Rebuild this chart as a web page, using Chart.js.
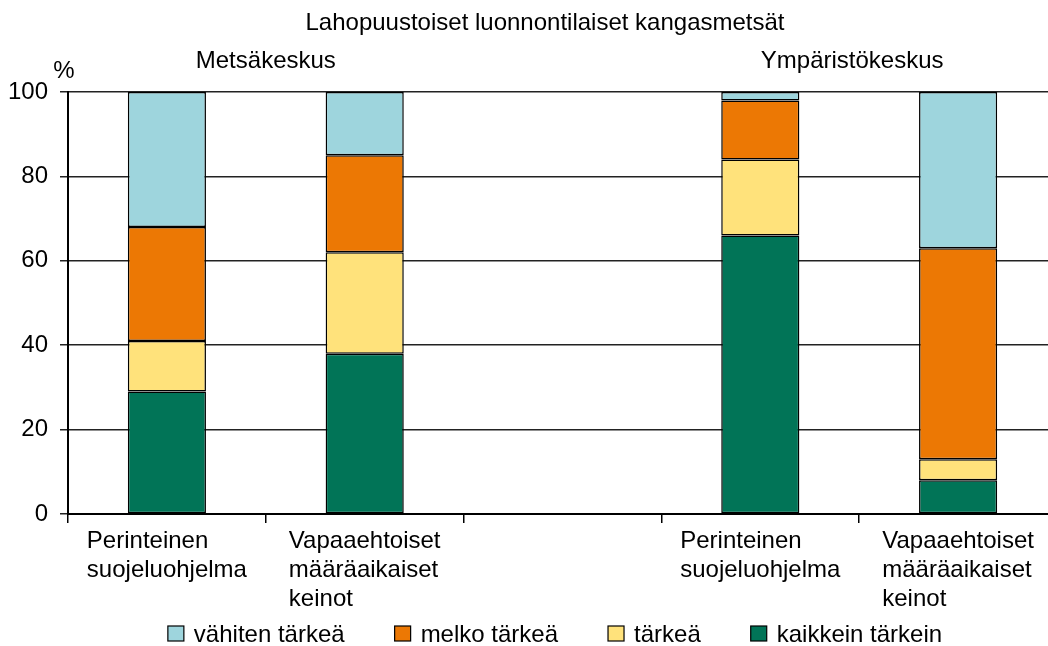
<!DOCTYPE html>
<html>
<head>
<meta charset="utf-8">
<script src="https://cdn.jsdelivr.net/npm/chart.js@4"></script>
<style>
  html, body { margin: 0; padding: 0; background: #fff; overflow: hidden; }
  #wrap { width: 1057px; height: 646px; }
</style>
</head>
<body>
<div id="wrap"><canvas id="chart"></canvas></div>
<script>
// Data
const categories = [
  ["Perinteinen", "suojeluohjelma"],
  ["Vapaaehtoiset", "määräaikaiset", "keinot"],
  [""],
  ["Perinteinen", "suojeluohjelma"],
  ["Vapaaehtoiset", "määräaikaiset", "keinot"]
];
const kaikkeinTarkein = [29, 38, null, 66, 8];
const tarkea = [12, 24, null, 18, 5];
const melkoTarkea = [27, 23, null, 14, 50];
const vahitenTarkea = [32, 15, null, 2, 37];
const yTicks = [0, 20, 40, 60, 80, 100];

const FONT = "'Liberation Sans', Arial, Helvetica, sans-serif";
const FS = 24;

// titles, group labels, x labels and legend
const decor = {
  id: "decor",
  afterDraw(chart) {
    const ctx = chart.ctx;
    const x = chart.scales.x;
    const area = chart.chartArea;
    ctx.save();
    ctx.fillStyle = "#000";
    ctx.font = FS + "px " + FONT;
    ctx.textBaseline = "middle";
    ctx.textAlign = "center";
    ctx.fillText("Lahopuustoiset luonnontilaiset kangasmetsät", 545, 23);
    ctx.fillText("Metsäkeskus", (x.getPixelForValue(0) + x.getPixelForValue(1)) / 2, 61);
    ctx.fillText("Ympäristökeskus", (x.getPixelForValue(3) + x.getPixelForValue(4)) / 2 - 7, 61);
    ctx.fillText("%", 64, 71);

    // category labels, lines left aligned, block centred under the bar
    ctx.textAlign = "left";
    ctx.textBaseline = "alphabetic";
    categories.forEach((lines, i) => {
      const w = Math.max(...lines.map(l => ctx.measureText(l).width));
      const x0 = x.getPixelForValue(i) - w / 2;
      lines.forEach((l, k) => ctx.fillText(l, x0, area.bottom + 34 + k * 29));
    });

    // legend, reversed order
    const items = chart.data.datasets.slice().reverse();
    const box = 16, gapText = 10, gap = 50;
    const widths = items.map(d => box + gapText + ctx.measureText(d.label).width);
    const total = widths.reduce((a, b) => a + b, 0) + gap * (items.length - 1);
    let lx = 555 - total / 2;
    const ly = 634;
    ctx.textBaseline = "middle";
    items.forEach((d, i) => {
      ctx.fillStyle = d.backgroundColor;
      ctx.fillRect(lx, ly - 8, box, 15);
      ctx.strokeStyle = "#000";
      ctx.lineWidth = 1.2;
      ctx.strokeRect(lx, ly - 8, box, 15);
      ctx.fillStyle = "#000";
      ctx.fillText(d.label, lx + box + gapText, ly + 1);
      lx += widths[i] + gap;
    });
    ctx.restore();
  }
};

const common = { borderColor: "#000", borderWidth: 1.5, borderSkipped: false };

new Chart(document.getElementById("chart"), {
  type: "bar",
  data: {
    labels: categories,
    datasets: [
      { label: "kaikkein tärkein", data: kaikkeinTarkein, backgroundColor: "#017457", ...common },
      { label: "tärkeä", data: tarkea, backgroundColor: "#FFE27B", ...common },
      { label: "melko tärkeä", data: melkoTarkea, backgroundColor: "#EC7804", ...common },
      { label: "vähiten tärkeä", data: vahitenTarkea, backgroundColor: "#9ED5DD", ...common }
    ]
  },
  options: {
    responsive: true,
    maintainAspectRatio: false,
    animation: false,
    layout: { padding: { top: 92, left: 0, right: 0, bottom: 0 } },
    plugins: { legend: { display: false }, tooltip: { enabled: false } },
    datasets: { bar: { categoryPercentage: 1, barPercentage: 0.395 } },
    scales: {
      x: {
        stacked: true,
        grid: { drawOnChartArea: false, drawTicks: true, tickLength: 9, color: "#000", lineWidth: 1.5, offset: true },
        border: { color: "#000", width: 2 },
        ticks: { display: false },
        afterFit: s => { s.height = 132; }
      },
      y: {
        stacked: true,
        min: 0,
        max: 100,
        afterBuildTicks: s => { s.ticks = yTicks.map(v => ({ value: v })); },
        grid: { color: "#222", lineWidth: 1.5, tickLength: 8 },
        border: { color: "#000", width: 2 },
        ticks: { color: "#000", padding: 12, font: { family: FONT, size: FS } },
        afterFit: s => { s.width = 68; }
      }
    }
  },
  plugins: [decor]
});
</script>
</body>
</html>
